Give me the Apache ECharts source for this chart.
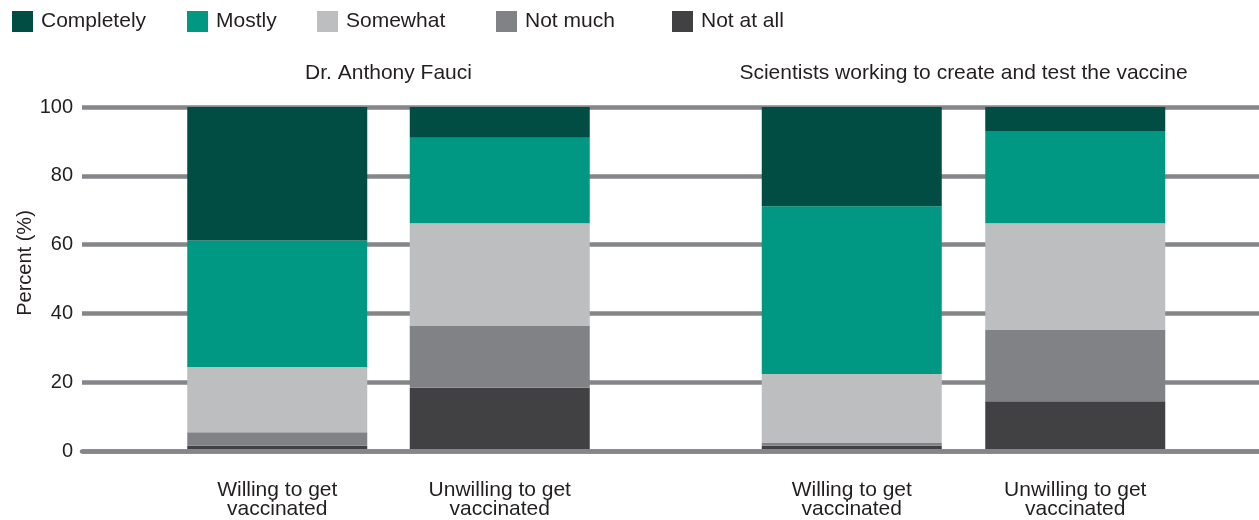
<!DOCTYPE html>
<html>
<head>
<meta charset="utf-8">
<script src="https://cdn.jsdelivr.net/npm/echarts@6/dist/echarts.min.js"></script>
<style>
  html, body { margin: 0; padding: 0; background: #ffffff; }
  #chart { width: 1259px; height: 520px; }
</style>
</head>
<body>
<div id="chart"></div>
<script>
// ---- Data ----
const categories = ['Willing to get\nvaccinated', 'Unwilling to get\nvaccinated'];
const panelTitles = ['Dr. Anthony Fauci', 'Scientists working to create and test the vaccine'];
const responses = ['Completely', 'Mostly', 'Somewhat', 'Not much', 'Not at all'];
const yTicks = [0, 20, 40, 60, 80, 100];

// Percent values, [Willing, Unwilling]
const fauciCompletely = [39, 9];
const fauciMostly     = [37, 25];
const fauciSomewhat   = [19, 30];
const fauciNotMuch    = [4, 18];
const fauciNotAtAll   = [1, 18];

const sciCompletely = [29, 7];
const sciMostly     = [49, 27];
const sciSomewhat   = [20, 31];
const sciNotMuch    = [1, 21];
const sciNotAtAll   = [1, 14];

// ---- Styles ----
const colors = {
  'Completely': '#014d43',
  'Mostly': '#009882',
  'Somewhat': '#bcbec0',
  'Not much': '#808285',
  'Not at all': '#414042'
};
const textColor = '#231f20';
const gridColor = '#858689';
const fontFamily = '"Liberation Sans", Arial, sans-serif';

const panels = [
  { data: { 'Completely': fauciCompletely, 'Mostly': fauciMostly, 'Somewhat': fauciSomewhat, 'Not much': fauciNotMuch, 'Not at all': fauciNotAtAll }, left: 166, width: 445 },
  { data: { 'Completely': sciCompletely, 'Mostly': sciMostly, 'Somewhat': sciSomewhat, 'Not much': sciNotMuch, 'Not at all': sciNotAtAll }, left: 740, width: 447 }
];

const gridTop = 107;
const gridBottom = 69;

const grids = [{ left: 82, right: 0, top: gridTop, bottom: gridBottom, containLabel: false }];
const xAxes = [{
  gridIndex: 0, type: 'value', min: 0, max: 1, z: 5,
  axisLine: { show: true, lineStyle: { color: gridColor, width: 4.5 } },
  axisTick: { show: false }, axisLabel: { show: false }, splitLine: { show: false }
}];
const yAxes = [{
  gridIndex: 0, type: 'value', min: yTicks[0], max: yTicks[yTicks.length - 1], interval: 20,
  axisLine: { show: false }, axisTick: { show: false },
  axisLabel: { color: textColor, fontSize: 20, fontFamily: fontFamily, margin: 9 },
  splitLine: { show: true, lineStyle: { color: gridColor, width: 4.5 } }
}];

const series = [];
// stack bottom-to-top order
const stackOrder = responses.slice().reverse();

panels.forEach((p, i) => {
  grids.push({ left: p.left, width: p.width, top: gridTop, bottom: gridBottom });
  xAxes.push({
    gridIndex: i + 1, type: 'category', data: categories,
    axisLine: { show: false }, axisTick: { show: false }, splitLine: { show: false },
    axisLabel: { color: textColor, fontSize: 21, fontFamily: fontFamily, lineHeight: 19.5, margin: 31, interval: 0 }
  });
  yAxes.push({
    gridIndex: i + 1, type: 'value', min: 0, max: 100, show: false,
    splitLine: { show: false }
  });
  stackOrder.forEach(r => {
    series.push({
      name: r, type: 'bar', stack: 'panel' + i,
      xAxisIndex: i + 1, yAxisIndex: i + 1,
      barWidth: 180,
      itemStyle: { color: colors[r] },
      emphasis: { disabled: true },
      data: p.data[r]
    });
  });
});

const legendLefts = [12, 187, 317, 496, 672];
const legends = responses.map((r, i) => ({
  data: [r], left: legendLefts[i], top: 11, padding: 0,
  itemWidth: 21, itemHeight: 21, icon: 'rect', selectedMode: false,
  textStyle: { color: textColor, fontSize: 21, fontFamily: fontFamily, padding: [4, 0, 0, 3] }
}));

const panelCenters = panels.map(p => p.left + p.width / 2);

const graphics = panelTitles.map((t, i) => ({
  type: 'text', x: panelCenters[i], y: 73,
  style: { text: t, fill: textColor, font: '21px ' + fontFamily, textAlign: 'center', textVerticalAlign: 'middle' }
}));
graphics.push({
  type: 'text', x: 25, y: 263, rotation: Math.PI / 2,
  style: { text: 'Percent (%)', fill: textColor, font: '20px ' + fontFamily, textAlign: 'center', textVerticalAlign: 'middle' }
});

const chart = echarts.init(document.getElementById('chart'), null, { renderer: 'canvas' });
chart.setOption({
  backgroundColor: '#ffffff',
  animation: false,
  legend: legends,
  grid: grids,
  xAxis: xAxes,
  yAxis: yAxes,
  series: series,
  graphic: graphics
});
</script>
</body>
</html>
